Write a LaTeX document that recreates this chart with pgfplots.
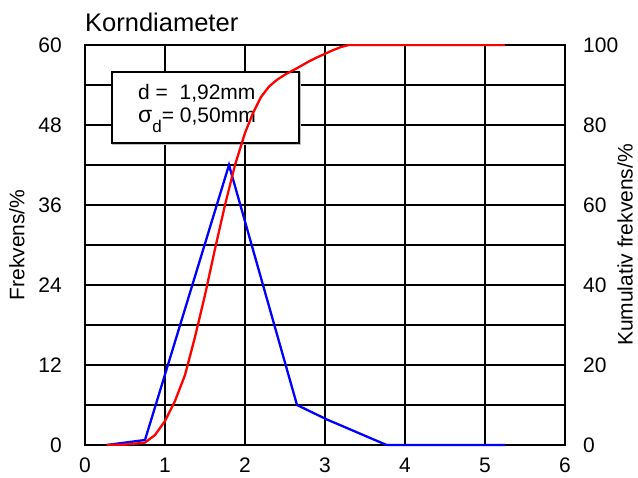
\documentclass[border=0pt]{standalone}
\usepackage{pgfplots}
\pgfplotsset{compat=1.18}
\usepackage{fontspec}
\setmainfont{Liberation Sans}

\pgfplotstableread{
x y
0.27 0
0.75 0.75
1.80 42
2.65 6
3.02 3.85
3.77 0
5.25 0
}\freq

\pgfplotstableread{
x y
0.27 0
0.5 0.1
0.75 0.6
0.875 2.5
1.0 6
1.125 11
1.25 17.5
1.375 27
1.5 37.5
1.625 49
1.75 60
1.875 70
2.0 78
2.1 83
2.2 87
2.3 89.6
2.4 91.3
2.5 92.6
2.65 94.2
2.8 95.9
2.9 96.9
3.0 97.8
3.1 98.7
3.2 99.5
3.3 100
5.25 100
}\cum

\begin{document}
\begin{tikzpicture}
\begin{axis}[
  scale only axis, width=480pt, height=400pt,
  xmin=0, xmax=6, ymin=0, ymax=60,
  xtick={0,1,2,3,4,5,6}, ytick={0,12,24,36,48,60},
  minor ytick={6,18,30,42,54},
  grid=both,
  major grid style={black, line width=1.8pt},
  minor grid style={black, line width=1.8pt},
  axis line style={black, line width=1.8pt},
  major tick length=0pt, minor tick length=0pt,
  ytick pos=left, xtick pos=bottom,
  clip=false,
  /pgf/number format/assume math mode=true,
  ticklabel style={font=\fontsize{21}{24}\selectfont},
  yticklabel style={inner sep=0pt, anchor=east, xshift=-23pt},
  xticklabel style={inner sep=0pt, anchor=north, yshift=-13pt},
  every axis y label/.style={at={(axis description cs:-0.1417,0.5)}, rotate=90, anchor=center, inner sep=0pt, font=\fontsize{21}{24}\selectfont},
  ylabel={Frekvens/\%},
  every axis title/.style={at={(axis description cs:0,1)}, anchor=base west, yshift=13pt, inner sep=0pt, font=\fontsize{25.5}{28}\selectfont},
  title={Korndiameter},
]
\path (rel axis cs:-0.17708,-0.08) rectangle (rel axis cs:1.15208,1.1125);
\draw[line width=1.8pt, black!25] (axis cs:0.35,45.1) rectangle (axis cs:2.688,55.8);
\draw[line width=1.8pt, black, fill=white] (axis cs:0.3375,45.3) rectangle (axis cs:2.675,56);
\node[anchor=base west, inner sep=0pt, font=\fontsize{21}{24}\selectfont] at (axis cs:0.6625,51.75) {d =\ \ 1,92mm};
\node[anchor=base west, inner sep=0pt, font=\fontsize{21}{24}\selectfont] at (axis cs:0.6625,48.3) {{\fontsize{23}{24}\selectfont σ}\raisebox{-10pt}{\fontsize{17}{18}\selectfont d}= 0,50mm};
\addplot[blue, line width=2.3pt] table[x=x,y=y] {\freq};
\end{axis}
\begin{axis}[
  scale only axis, width=480pt, height=400pt,
  xmin=0, xmax=6, ymin=0, ymax=100,
  axis x line=none,
  axis y line*=right,
  ytick={0,20,40,60,80,100},
  axis line style={black, line width=1.8pt},
  major tick length=0pt,
  /pgf/number format/assume math mode=true,
  ticklabel style={font=\fontsize{21}{24}\selectfont},
  yticklabel style={inner sep=0pt, anchor=west, xshift=18pt},
  every axis y label/.style={at={(axis description cs:1.125,0.5)}, rotate=90, anchor=center, inner sep=0pt, font=\fontsize{21}{24}\selectfont},
  ylabel={Kumulativ frekvens/\%},
]
\addplot[red, line width=2.3pt] table[x=x,y=y] {\cum};
\end{axis}
\end{tikzpicture}
\end{document}
